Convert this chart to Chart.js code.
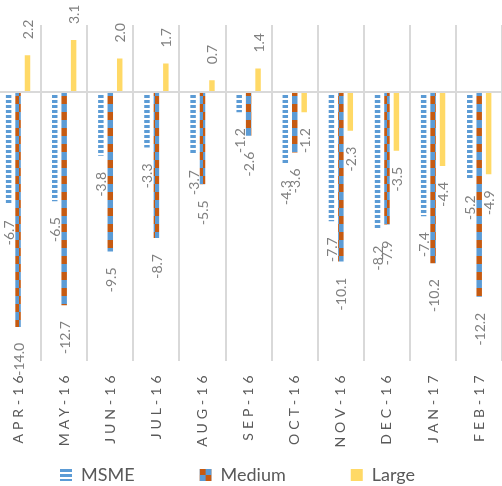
<!DOCTYPE html>
<html>
<head>
<meta charset="utf-8">
<script src="https://cdn.jsdelivr.net/npm/chart.js@4.4.1/dist/chart.umd.min.js"></script>
<style>
  html, body { margin: 0; padding: 0; background: #ffffff; }
  #frame { position: relative; width: 502px; height: 486px; overflow: hidden; }
  #chart { position: absolute; left: -5px; top: 0; }
</style>
</head>
<body>
<div id="frame"><canvas id="chart" width="512" height="494"></canvas></div>
<script>
// Monthly growth (%) by enterprise size
const months = ['APR-16', 'MAY-16', 'JUN-16', 'JUL-16', 'AUG-16', 'SEP-16', 'OCT-16', 'NOV-16', 'DEC-16', 'JAN-17', 'FEB-17'];
const msme   = [-6.7, -6.5, -3.8, -3.3, -3.7, -1.2, -4.3, -7.7, -8.2, -7.4, -5.2];
const medium = [-14.0, -12.7, -9.5, -8.7, -5.5, -2.6, -3.6, -10.1, -7.9, -10.2, -12.2];
const large  = [2.2, 3.1, 2.0, 1.7, 0.7, 1.4, -1.2, -2.3, -3.5, -4.4, -4.9];
const seriesNames = ['MSME', 'Medium', 'Large'];

const BLUE = '#5B9BD5', ORANGE = '#C55A11', YELLOW = '#FFD966';
const FONT = 'Lato, "Open Sans", sans-serif';

function makeTile(w, h, paint) {
  const c = document.createElement('canvas');
  c.width = w; c.height = h;
  paint(c.getContext('2d'), w, h);
  return c;
}
const ctx = document.getElementById('chart').getContext('2d');

// horizontal dash stripes
const stripeTile = makeTile(8, 5, (g) => {
  g.fillStyle = '#ffffff'; g.fillRect(0, 0, 8, 5);
  g.fillStyle = BLUE; g.fillRect(0, 0, 8, 3);
});
// checkerboard
function checker(cell) {
  return makeTile(cell * 2, cell * 2, (g) => {
    g.fillStyle = BLUE; g.fillRect(0, 0, cell * 2, cell * 2);
    g.fillStyle = ORANGE; g.fillRect(0, 0, cell, cell); g.fillRect(cell, cell, cell, cell);
  });
}
const msmeFill = ctx.createPattern(stripeTile, 'repeat');
const mediumFill = ctx.createPattern(checker(8), 'repeat');
const msmeKey = ctx.createPattern(stripeTile, 'repeat');
const mediumKey = ctx.createPattern(checker(6), 'repeat');
const keyFills = [msmeKey, mediumKey, YELLOW];

Chart.defaults.font.family = FONT;

const valueTags = {
  id: 'valueTags',
  afterLayout(chart) {
    // let the rotated month labels run below the axis box
    chart.scales.x.bottom = chart.height;
  },
  beforeDraw(chart) {
    // line the key swatch patterns up with their boxes
    const hb = chart.legend && chart.legend.legendHitBoxes;
    if (!hb) return;
    [msmeKey, mediumKey].forEach((p, i) => {
      if (hb[i]) p.setTransform(new DOMMatrix().translate(hb[i].left, hb[i].top + 3));
    });
  },
  afterDatasetsDraw(chart) {
    // value tags at bar ends, rotated to read upwards
    const c = chart.ctx;
    c.save();
    c.font = '14px ' + FONT;
    c.fillStyle = '#7f7f7f';
    c.textBaseline = 'middle';
    chart.data.datasets.forEach((ds, i) => {
      chart.getDatasetMeta(i).data.forEach((bar, j) => {
        const v = ds.data[j];
        c.save();
        c.translate(bar.x + 1, bar.y);
        c.rotate(-Math.PI / 2);
        if (v >= 0) { c.textAlign = 'left'; c.fillText(v.toFixed(1), 16, 0); }
        else { c.textAlign = 'right'; c.fillText(v.toFixed(1), -16, 0); }
        c.restore();
      });
    });
    c.restore();
    // month labels are drawn after this hook, spaced out
    c.letterSpacing = '4px';
  },
  afterDraw(chart) {
    chart.ctx.letterSpacing = '0px';
  }
};

new Chart(ctx, {
  type: 'bar',
  data: {
    labels: months,
    datasets: [
      { label: seriesNames[0], data: msme, backgroundColor: msmeFill },
      { label: seriesNames[1], data: medium, backgroundColor: mediumFill },
      { label: seriesNames[2], data: large, backgroundColor: YELLOW }
    ]
  },
  options: {
    responsive: false,
    animation: false,
    datasets: { bar: { categoryPercentage: 0.614, barPercentage: 0.58, borderWidth: 0 } },
    layout: { padding: { top: 25, bottom: 0, left: 0, right: 0 } },
    scales: {
      x: {
        grid: { color: '#d9d9d9', lineWidth: 2, drawTicks: false, offset: true },
        border: { display: false },
        ticks: { color: '#595959', font: { size: 14 }, minRotation: 90, maxRotation: 90, autoSkip: false, padding: 11, z: 1 },
        afterFit(s) { s.height = 40.5; }
      },
      y: {
        min: -16, max: 4,
        ticks: { display: false, stepSize: 2 },
        border: { display: false },
        grid: {
          drawTicks: false,
          lineWidth: 2,
          color: (c) => (c.tick && c.tick.value === 0 ? '#d9d9d9' : 'rgba(0,0,0,0)')
        }
      }
    },
    plugins: {
      tooltip: { enabled: false },
      legend: {
        position: 'bottom',
        align: 'start',
        labels: {
          color: '#595959',
          font: { size: 18 },
          boxWidth: 12,
          boxHeight: 12,
          padding: 65,
          generateLabels(chart) {
            const items = Chart.defaults.plugins.legend.labels.generateLabels(chart);
            items.forEach((it, i) => { it.fillStyle = keyFills[i]; it.lineWidth = 0; });
            return items;
          }
        }
      }
    }
  },
  plugins: [valueTags]
});
</script>
</body>
</html>
